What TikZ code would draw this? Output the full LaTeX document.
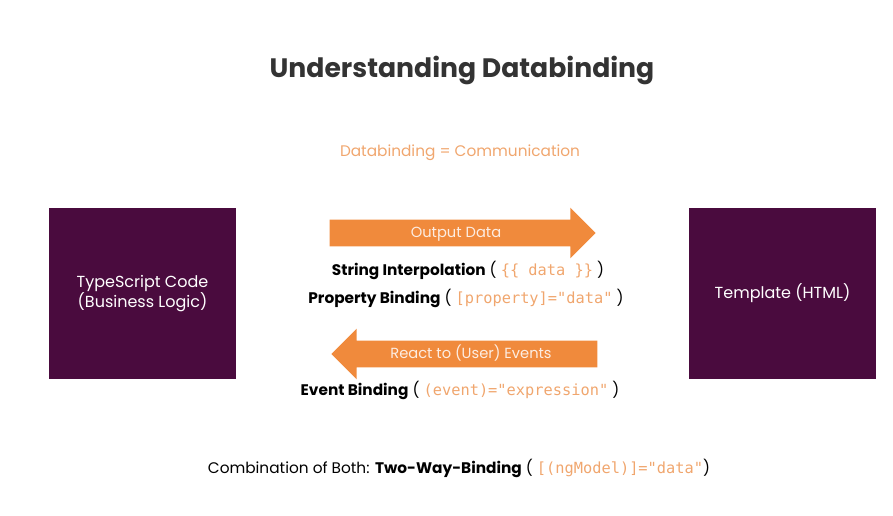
\documentclass[tikz,border=0pt]{standalone}
\usepackage{fontspec}
\setmainfont{Poppins}
\newfontfamily\codefont{DejaVu Sans Mono}
\usetikzlibrary{shapes.arrows}
\definecolor{plum}{HTML}{4A0B3E}
\definecolor{tangerine}{HTML}{F08A3C}
\definecolor{peach}{HTML}{F0A66E}
\newcommand{\code}[1]{{\codefont\color{peach}#1}}
\begin{document}
\begin{tikzpicture}[x=0.75pt,y=-0.75pt]
    \tikzset{block/.style = {fill=plum, text=white, minimum width=140.25pt, minimum height=128.25pt, align=center, font=\fontsize{12}{15}\selectfont}}
    \tikzset{flow/.style = {shape=single arrow, fill=tangerine, text=white!85!tangerine, inner sep=0pt, minimum height=199.5pt, text height=13.5pt, text depth=6pt, single arrow head extend=9pt, font=\fontsize{11}{13}\selectfont}}
    \tikzset{caption/.style = {font=\fontsize{11.5}{14}\selectfont}}
    \useasboundingbox (0,0) rectangle (893,516);

    % title
    \node[font=\fontsize{20}{24}\selectfont\bfseries, text=black!80] (title) at (462,70) {Understanding Databinding};
    \node[caption, text=peach] (motto) at (460,153) {Databinding = Communication};

    % blocks
    \node[block] (ts) at (142.5,293.5) {TypeScript Code\\(Business Logic)};
    \node[block] (tpl) at (782.5,293.5) {Template (HTML)};

    % arrows
    \node[flow] (out) at (456,233) {Output Data};
    \node[flow, shape border rotate=180] (back) at (471,354) {React to (User) Events};

    % bindings
    \node[caption] (interp) at (468,270) {\textbf{String Interpolation} ( \code{\{\{ data \}\}} )};
    \node[caption] (prop) at (466,298) {\textbf{Property Binding} ( \code{[property]="data"} )};
    \node[caption] (event) at (460,390) {\textbf{Event Binding} ( \code{(event)="expression"} )};
    \node[caption] (both) at (459,468) {Combination of Both: \textbf{Two-Way-Binding} ( \code{[(ngModel)]="data"})};
\end{tikzpicture}
\end{document}
